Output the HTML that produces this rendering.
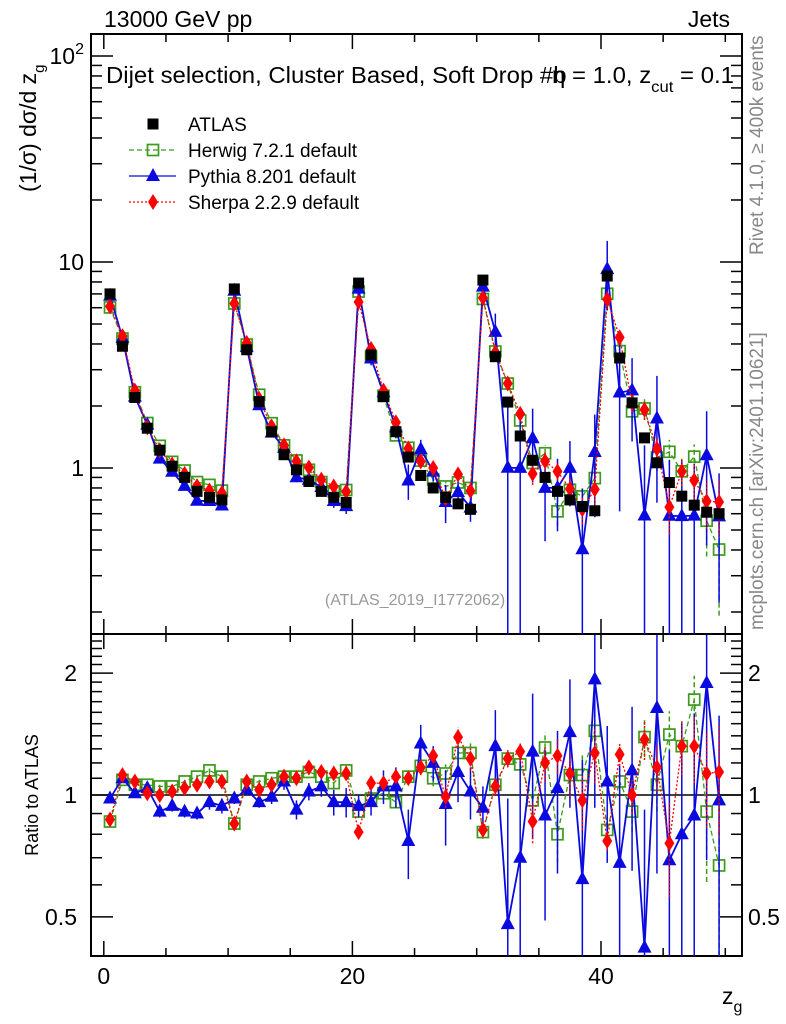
<!DOCTYPE html>
<html><head><meta charset="utf-8">
<style>
html,body{margin:0;padding:0;background:#fff;overflow:hidden;width:786px;height:1024px;}
svg{display:block;font-family:"Liberation Sans",sans-serif;}
</style></head>
<body>
<svg id="chart" width="786" height="1024" viewBox="0 0 786 1024" xmlns="http://www.w3.org/2000/svg">
  <defs>
    <clipPath id="clipMain"><rect x="91" y="34" width="651" height="600"/></clipPath>
    <clipPath id="clipRatio"><rect x="91" y="635" width="651" height="321"/></clipPath>
  </defs>
  <text x="104" y="27" font-size="23">13000 GeV pp</text>
  <text x="730" y="27" font-size="23" text-anchor="end">Jets</text>
  <text x="106" y="83" font-size="23" textLength="628" lengthAdjust="spacingAndGlyphs">Dijet selection, Cluster Based, Soft Drop #b<tspan dx="-14">η = 1.0, z</tspan><tspan font-size="16" dy="9">cut</tspan><tspan dy="-9"> = 0.1</tspan></text>
  <text transform="translate(36,192) rotate(-90)" font-size="23">(1/σ) dσ/d z<tspan font-size="15" dy="8">g</tspan></text>
  <text transform="translate(38,795) rotate(-90)" font-size="18" text-anchor="middle">Ratio to ATLAS</text>
  <text transform="translate(763,255) rotate(-90)" font-size="19" fill="#888">Rivet 4.1.0, ≥ 400k events</text>
  <text transform="translate(763,630) rotate(-90)" font-size="19" fill="#888">mcplots.cern.ch [arXiv:2401.10621]</text>
  <text x="415" y="605" font-size="16" fill="#999" text-anchor="middle">(ATLAS_2019_I1772062)</text>
  <text x="722" y="1004" font-size="23">z<tspan font-size="16" dy="8">g</tspan></text>
  <g id="axes"></g>
  <g id="mainMarks" clip-path="url(#clipMain)"></g>
  <g id="ratioMarks" clip-path="url(#clipRatio)"></g>
  <g id="legend"></g>
</svg>
<script>
const binCenters = [];
for (let i = 0; i < 50; i++) binCenters.push(i + 0.5);
const atlasValues = [7.0,3.9,2.2,1.56,1.22,1.02,0.9,0.77,0.72,0.7,
  7.4,3.75,2.1,1.5,1.16,0.98,0.86,0.77,0.72,0.68,
  7.9,3.54,2.22,1.5,1.13,0.92,0.8,0.72,0.67,0.63,
  8.17,3.47,2.09,1.43,1.09,0.9,0.77,0.7,0.65,0.62,
  8.55,3.42,2.07,1.4,1.06,0.85,0.73,0.66,0.61,0.6];
const herwigRatio = [0.86,1.09,1.06,1.06,1.05,1.05,1.08,1.11,1.15,1.11,
  0.85,1.06,1.08,1.10,1.11,1.11,1.14,1.11,1.07,1.15,
  0.91,0.98,1.01,0.96,1.11,1.18,1.10,1.13,1.27,1.27,
  0.81,1.06,1.23,1.19,0.97,1.31,0.80,1.12,1.12,1.44,
  0.82,1.08,0.91,1.39,1.06,1.41,1.32,1.72,0.91,0.67];
const pythiaRatio = [0.98,1.10,1.01,1.04,0.91,0.94,0.91,0.90,0.96,0.94,
  0.98,1.03,0.96,0.99,1.08,0.92,1.02,1.05,0.96,0.96,
  0.94,0.96,1.05,1.05,0.77,1.34,1.20,0.95,1.14,1.02,
  0.93,1.32,0.48,0.70,1.28,0.89,1.04,1.43,0.62,1.93,
  1.08,0.68,1.15,0.42,1.64,0.69,0.80,0.89,1.89,0.97];
const sherpaRatio = [0.87,1.12,1.08,1.01,1.00,1.02,1.04,1.06,1.08,1.08,
  0.85,1.08,1.03,1.06,1.11,1.10,1.17,1.14,1.13,1.13,
  0.81,1.07,1.07,1.11,1.10,1.17,1.25,0.99,1.39,1.23,
  0.82,1.05,1.23,1.28,0.86,1.20,1.25,1.13,0.97,1.27,
  0.77,1.26,1.00,1.37,1.17,0.76,1.32,1.32,1.13,1.14];
const pythiaErr = [0.02,0.02,0.02,0.03,0.03,0.03,0.03,0.03,0.04,0.04,
  0.03,0.03,0.03,0.04,0.05,0.05,0.05,0.06,0.07,0.08,
  0.06,0.07,0.10,0.12,0.15,0.15,0.12,0.2,0.18,0.15,
  0.12,0.3,0.5,0.6,0.5,0.4,0.4,0.5,0.6,1.0,
  0.4,0.5,0.5,0.5,1.0,0.6,0.7,0.7,1.2,0.6];
const herwigErr = [0.01,0.01,0.01,0.01,0.01,0.01,0.02,0.02,0.02,0.02,
  0.01,0.01,0.01,0.02,0.02,0.02,0.02,0.02,0.03,0.03,
  0.02,0.02,0.03,0.03,0.04,0.05,0.05,0.06,0.08,0.08,
  0.03,0.05,0.06,0.07,0.1,0.12,0.12,0.14,0.15,0.2,
  0.04,0.08,0.1,0.15,0.15,0.2,0.2,0.25,0.3,0.35];
const sherpaErr = [0.01,0.01,0.01,0.01,0.01,0.01,0.02,0.02,0.02,0.02,
  0.01,0.01,0.01,0.02,0.02,0.02,0.02,0.02,0.03,0.03,
  0.02,0.02,0.03,0.03,0.04,0.05,0.05,0.06,0.08,0.08,
  0.03,0.05,0.06,0.07,0.1,0.12,0.12,0.14,0.15,0.2,
  0.04,0.08,0.1,0.15,0.15,0.2,0.2,0.25,0.3,0.35];
const xTickLabels = [0, 20, 40];
const mainTickLabels = ["10", "10²"];
const ratioTickLabels = [0.5, 1, 2];

const NS = "http://www.w3.org/2000/svg";
const X0 = 91, X1 = 742, MT = 34, MB = 634, RT = 635, RB = 956;
function xs(v){ return 103.8 + 12.43 * v; }
function ym(v){ return 468 - 206 * Math.log10(v); }
function yr(v){ return 795 - 405 * Math.log10(v); }
function clamp(y, a, b){ return Math.min(Math.max(y, a), b); }
function mk(tag, attrs, parent){
  const e = document.createElementNS(NS, tag);
  for (const k in attrs) e.setAttribute(k, attrs[k]);
  parent.appendChild(e);
  return e;
}
const axes = document.getElementById('axes');
const mainG = document.getElementById('mainMarks');
const ratioG = document.getElementById('ratioMarks');
const legG = document.getElementById('legend');

let f1 = mk('rect', {x:X0, y:MT, width:X1-X0, height:MB-MT, fill:'none', stroke:'#000', 'stroke-width':2}, axes);


let f2 = mk('rect', {x:X0, y:MB, width:X1-X0, height:RB-MB, fill:'none', stroke:'#000', 'stroke-width':2}, axes);



for (let v = 0; v <= 50; v += 5) {
  const x = xs(v), big = (v % 20 === 0);
  const L = big ? 15 : 8;
  [[MT, 1], [MB, -1], [MB, 1], [RB, -1]].forEach(([y0, d]) => {
    const t = mk('line', {x1:x, x2:x, y1:y0, y2:y0 + d*L, stroke:'#000', 'stroke-width':1.5}, axes);
    
    
  });
}
xTickLabels.forEach(v => {
  const t = mk('text', {x:xs(v), y:984, 'font-size':23, 'text-anchor':'middle'}, axes);
  t.textContent = v;
  
  
});

for (let d = -1; d <= 2; d++) {
  for (let m = 1; m <= 9; m++) {
    const v = m * Math.pow(10, d), y = ym(v);
    if (y < MT || y > MB) continue;
    const L = m === 1 ? 22 : 11;
    const a = mk('line', {x1:X0, x2:X0+L, y1:y, y2:y, stroke:'#000', 'stroke-width':1.5}, axes);
    
    
    const b = mk('line', {x1:X1, x2:X1-L, y1:y, y2:y, stroke:'#000', 'stroke-width':1.5}, axes);
    
    
  }
}
let l1 = mk('text', {x:84, y:ym(1)+8, 'font-size':23, 'text-anchor':'end'}, axes);
l1.textContent = '1';


let l10 = mk('text', {x:84, y:ym(10)+8, 'font-size':23, 'text-anchor':'end'}, axes);
l10.textContent = mainTickLabels[0];


let l100 = mk('text', {x:84, y:ym(100)+8, 'font-size':23, 'text-anchor':'end'}, axes);
l100.innerHTML = '10<tspan font-size="16" dy="-10">2</tspan>';



const ratioMinor = [0.4,0.6,0.7,0.8,0.9,1.1,1.2,1.3,1.4,1.5,1.6,1.7,1.8,1.9,2.1,2.2,2.3,2.4];
ratioMinor.concat(ratioTickLabels).forEach(v => {
  const y = yr(v);
  const L = ratioTickLabels.includes(v) ? 22 : 11;
  const a = mk('line', {x1:X0, x2:X0+L, y1:y, y2:y, stroke:'#000', 'stroke-width':1.5}, axes);
  
  
  const b = mk('line', {x1:X1, x2:X1-L, y1:y, y2:y, stroke:'#000', 'stroke-width':1.5}, axes);
  
  
});
ratioTickLabels.forEach(v => {
  const t = mk('text', {x:77, y:yr(v)+8, 'font-size':23, 'text-anchor':'end'}, axes);
  t.textContent = v;
  
  
  const t2 = mk('text', {x:748, y:yr(v)+8, 'font-size':23}, axes);
  t2.textContent = v;
  
  
});
let one = mk('line', {x1:X0, x2:X1, y1:yr(1), y2:yr(1), stroke:'#000', 'stroke-width':1.5}, ratioG);



function marker(g, type, x, y, color){
  let e;
  if (type === 'sq') e = mk('rect', {x:x-5.5, y:y-5.5, width:11, height:11, fill:'#000'}, g);
  else if (type === 'osq') e = mk('rect', {x:x-5.5, y:y-5.5, width:11, height:11, fill:'none', stroke:color, 'stroke-width':1.7}, g);
  else if (type === 'tri') e = mk('polygon', {points:`${x},${y-8} ${x+7},${y+5} ${x-7},${y+5}`, fill:color}, g);
  else e = mk('polygon', {points:`${x},${y-8} ${x+5},${y} ${x},${y+8} ${x-5},${y}`, fill:color}, g);
  return e;
}
const series = [
  {name:'herwig', ratio:herwigRatio, err:herwigErr, color:'#3c9a1c', dash:'5,3', type:'osq', w:1.3},
  {name:'pythia', ratio:pythiaRatio, err:pythiaErr, color:'#0a0ae0', dash:'', type:'tri', w:1.8},
  {name:'sherpa', ratio:sherpaRatio, err:sherpaErr, color:'#ff0000', dash:'2,2', type:'dia', w:1.3}
];
series.forEach(s => {
  const gm = mk('g', {}, mainG);
  
  
  const gr = mk('g', {}, ratioG);
  
  
  const ptsM = [], ptsR = [];
  binCenters.forEach((c, i) => {
    const r = s.ratio[i], v = atlasValues[i] * r;
    ptsM.push(xs(c) + ',' + clamp(ym(v), MT, MB));
    ptsR.push(xs(c) + ',' + clamp(yr(r), RT, RB));
  });
  const lm = mk('polyline', {points:ptsM.join(' '), fill:'none', stroke:s.color, 'stroke-width':s.w, 'stroke-dasharray':s.dash}, gm);
  
  
  const lr = mk('polyline', {points:ptsR.join(' '), fill:'none', stroke:s.color, 'stroke-width':s.w, 'stroke-dasharray':s.dash}, gr);
  
  
  binCenters.forEach((c, i) => {
    const r = s.ratio[i], v = atlasValues[i] * r, e = s.err[i];
    const x = xs(c);
    const lo = Math.max(r - e, 0.01), hi = r + e;
    const eb = mk('line', {x1:x, x2:x, y1:clamp(ym(atlasValues[i]*lo), MT, MB), y2:clamp(ym(atlasValues[i]*hi), MT, MB), stroke:s.color, 'stroke-width':1.5, 'stroke-dasharray':s.dash}, gm);
    
    
    const eb2 = mk('line', {x1:x, x2:x, y1:clamp(yr(lo), RT, RB), y2:clamp(yr(hi), RT, RB), stroke:s.color, 'stroke-width':1.5, 'stroke-dasharray':s.dash}, gr);
    
    
    const m1 = marker(gm, s.type, x, ym(v), s.color);
    
    
    const m2 = marker(gr, s.type, x, yr(r), s.color);
    
    
  });
});
const ga = mk('g', {}, mainG);


binCenters.forEach((c, i) => {
  const m = marker(ga, 'sq', xs(c), ym(atlasValues[i]), '#000');
  
  
});

const legItems = [
  {label:'ATLAS', type:'sq', color:'#000', dash:null},
  {label:'Herwig 7.2.1 default', type:'osq', color:'#3c9a1c', dash:'5,3'},
  {label:'Pythia 8.201 default', type:'tri', color:'#0a0ae0', dash:''},
  {label:'Sherpa 2.2.9 default', type:'dia', color:'#ff0000', dash:'2,2'}
];
legItems.forEach((it, k) => {
  const y = 124 + 26 * k;
  const g = mk('g', {}, legG);
  
  
  if (it.dash !== null) mk('line', {x1:129, x2:176, y1:y, y2:y, stroke:it.color, 'stroke-width':1.3, 'stroke-dasharray':it.dash}, g);
  marker(g, it.type, 153, y, it.color);
  const t = mk('text', {x:188, y:y+7, 'font-size':19}, g);
  t.textContent = it.label;
});
</script>
</body></html>
